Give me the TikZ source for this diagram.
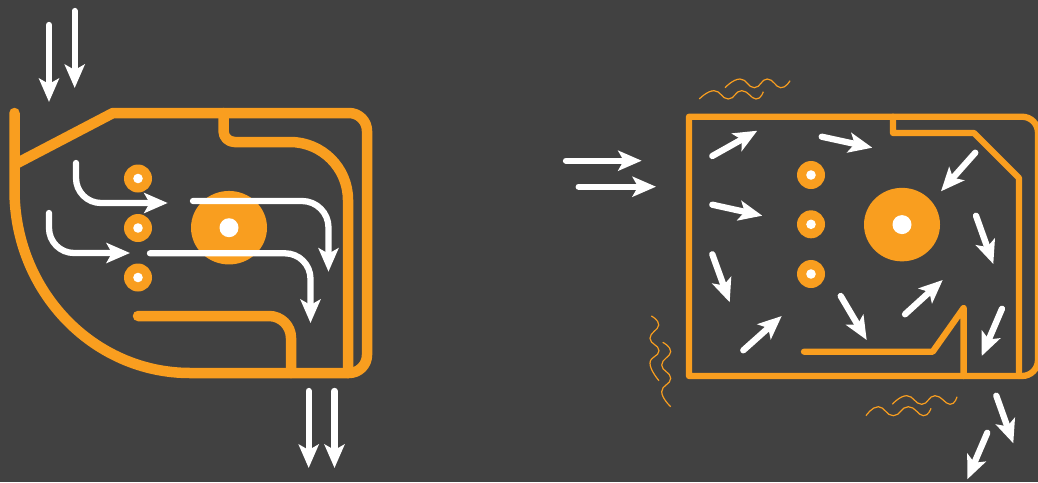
\documentclass[tikz,border=0pt]{standalone}
\usetikzlibrary{arrows.meta,shapes.geometric}
\definecolor{bgc}{RGB}{65,65,65}
\definecolor{amber}{RGB}{249,158,31}
\tikzset{
  wall/.style={draw=amber,line width=10.5pt,line cap=round,line join=round},
  thinwall/.style={draw=amber,line width=6.3pt,line cap=round,line join=round},
  flow/.style={draw=white,line width=6.3pt,line cap=round,line join=round,
    -{Stealth[length=23.5pt,width=20pt,inset=5.5pt]}},
  squiggle/.style={draw=amber,line width=1.2pt},
  pumpS/.style={circle,fill=amber,minimum size=28pt,inner sep=0pt},
  pumpB/.style={ellipse,fill=amber,minimum width=76pt,minimum height=73.5pt,inner sep=0pt},
  hubS/.style={circle,fill=white,minimum size=9.6pt,inner sep=0pt},
  hubB/.style={circle,fill=white,minimum size=19pt,inner sep=0pt}
}
\begin{document}
\begin{tikzpicture}[x=1pt,y=-1pt]
\path[use as bounding box,fill=bgc] (0,0) rectangle (1038,482);
\begin{scope}
\clip (0,0) rectangle (1038,482);
% ---------- left unit ----------
\path[wall] (14.5,113) -- (14.5,190) .. controls (14.5,291) and (93,373) .. (190,373)
  -- (349,373) arc[start angle=90,end angle=0,radius=18] -- (367,131)
  arc[start angle=0,end angle=-90,radius=18] -- (113,113) -- (14.5,164.5);
\path[wall] (223.5,113) -- (223.5,131) arc[start angle=180,end angle=90,radius=11]
  -- (290,142) arc[start angle=-90,end angle=0,radius=58] -- (348,373);
\path[wall] (138,316) -- (269,316) arc[start angle=-90,end angle=0,radius=22] -- (291,373);
\node[pumpS] (la) at (138,178.5) {};
\node[pumpS] (lb) at (138,228) {};
\node[pumpS] (lc) at (138,277.5) {};
\node[pumpB] (ld) at (229,227.7) {};
\node[hubS] at (la) {};
\node[hubS] at (lb) {};
\node[hubS] at (lc) {};
\node[hubB] at (ld) {};
\draw[flow] (49,25) -- (49,102);
\draw[flow] (74.7,11) -- (74.7,88);
\draw[flow] (76,163) -- (76,178) arc[start angle=180,end angle=90,radius=25] -- (167.7,203);
\draw[flow] (49,213) -- (49,228) arc[start angle=180,end angle=90,radius=25] -- (130,253);
\draw[flow] (193,201) -- (302,201) arc[start angle=-90,end angle=0,radius=26.5] -- (328.5,271.7);
\draw[flow] (150,253.3) -- (285,253.3) arc[start angle=-90,end angle=0,radius=25.5] -- (310.5,323);
\draw[flow] (308.7,391) -- (308.7,468);
\draw[flow] (334.5,391) -- (334.5,468);
% ---------- middle arrows ----------
\draw[flow] (566,160.7) -- (641.7,160.7);
\draw[flow] (578.7,186.7) -- (656,186.7);
% ---------- right unit ----------
\path[thinwall] (689,116.7) -- (1022,116.7) arc[start angle=-90,end angle=0,radius=16]
  -- (1038,360) arc[start angle=0,end angle=90,radius=16] -- (689,376) -- cycle;
\path[thinwall] (893,116.7) -- (893,133) -- (974,133) -- (1019,178) -- (1019,376);
\path[thinwall] (804,351.7) -- (932.7,351.7) -- (963.6,308) -- (963.6,376);
\node[pumpS] (ra) at (811,175) {};
\node[pumpS] (rb) at (811,224.3) {};
\node[pumpS] (rc) at (811,274) {};
\node[pumpB] (rd) at (902,224.6) {};
\node[hubS] at (ra) {};
\node[hubS] at (rb) {};
\node[hubS] at (rc) {};
\node[hubB] at (rd) {};
\draw[flow] (712.3,156) -- (757.3,130.7);
\draw[flow] (821.7,136.7) -- (872.3,147.7);
\draw[flow] (975.3,152.7) -- (941,191.3);
\draw[flow] (712.3,204.7) -- (762.3,215.7);
\draw[flow] (976,215.7) -- (993.3,264);
\draw[flow] (712.3,254.3) -- (729.7,302.3);
\draw[flow] (743.3,350.3) -- (781.7,316);
\draw[flow] (840.7,296) -- (866.7,340);
\draw[flow] (905,314.3) -- (942.7,280);
\draw[flow] (1002,308.7) -- (981.7,356);
\draw[flow] (996.3,395.7) -- (1013.3,443.3);
\draw[flow] (987.3,432.7) -- (967.3,479.3);
% ---------- squiggles ----------
\draw[squiggle] plot[smooth,tension=0.85] coordinates {(725,87.7) (740,79) (754.3,87.7) (767.3,79) (780.7,87.7) (790,80.7)};
\draw[squiggle] plot[smooth,tension=0.85] coordinates {(699.3,99) (714,90.7) (728.3,99) (741.7,90.7) (756,99) (763.3,91.7)};
\draw[squiggle] plot[smooth,tension=0.85] coordinates {(892.3,404.3) (906.7,395.7) (921.7,404.3) (935,395.7) (950,404.3) (957,396.7)};
\draw[squiggle] plot[smooth,tension=0.85] coordinates {(866,415.7) (878.3,406.7) (893.3,415.7) (908.3,406.7) (923.3,415.7) (931,408.3)};
\draw[squiggle] plot[smooth,tension=0.85] coordinates {(651.3,316) (658.7,325) (650,338.3) (659,350.7) (650,363.3) (659,380.7)};
\draw[squiggle] plot[smooth,tension=0.85] coordinates {(662.7,342.3) (670.7,351.7) (661.7,365) (670.7,378.3) (661.7,391.7) (670.7,406.7)};
\end{scope}
\end{tikzpicture}
\end{document}
